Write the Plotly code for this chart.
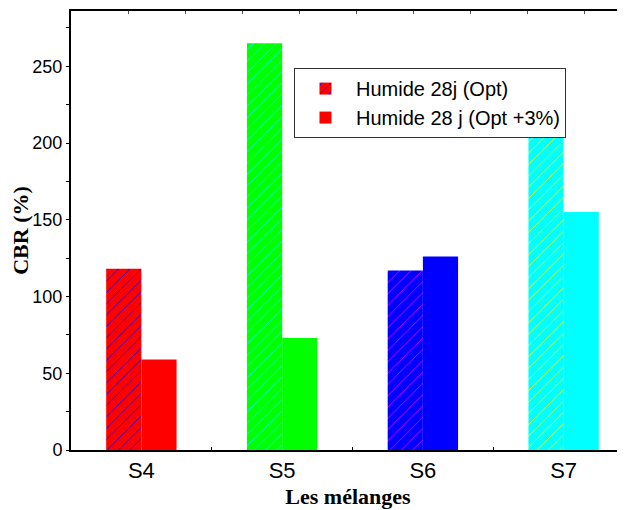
import plotly.graph_objects as go

categories = ["S4", "S5", "S6", "S7"]
cbr_opt = [118, 265, 117, 210]
cbr_opt3 = [59, 73, 126, 155]
series_names = ["Humide 28j (Opt)", "Humide 28 j (Opt +3%)"]
bar_colors = ["#ff0000", "#00ff00", "#0000ff", "#00ffff"]
hatch_colors = ["#0000ff", "#00ffff", "#ff00ff", "#ffff00"]
y_ticks = [0, 50, 100, 150, 200, 250]

fig = go.Figure()
for i, cat in enumerate(categories):
    fig.add_trace(go.Bar(
        x=[cat], y=[cbr_opt[i]], name=series_names[0],
        offsetgroup="opt", legendgroup="opt", showlegend=(i == 0),
        marker=dict(color=bar_colors[i], line=dict(width=0),
                    pattern=dict(shape="/", fgcolor=hatch_colors[i], bgcolor=bar_colors[i],
                                 size=8, solidity=0.1, fillmode="replace", fgopacity=1)),
    ))
for i, cat in enumerate(categories):
    fig.add_trace(go.Bar(
        x=[cat], y=[cbr_opt3[i]], name=series_names[1],
        offsetgroup="opt3", legendgroup="opt3", showlegend=(i == 0),
        marker=dict(color=bar_colors[i], line=dict(width=0)),
    ))

fig.update_layout(
    width=617, height=502,
    margin=dict(l=63, r=0, t=3, b=60, autoexpand=False),
    plot_bgcolor="white", paper_bgcolor="white",
    barmode="group", bargap=0.5, bargroupgap=0,
    font=dict(family="Liberation Sans, Arial", color="black"),
    showlegend=True,
    legend=dict(x=0.4025, y=0.87, xanchor="left", yanchor="top",
                bordercolor="#333333", borderwidth=1, bgcolor="white",
                font=dict(size=20, family="Liberation Sans, Arial"),
                tracegroupgap=0, itemwidth=51),
    xaxis=dict(range=[-0.5, 3.436], showline=True, linecolor="black", linewidth=2,
               ticks="inside", tickson="boundaries", ticklen=3, tickcolor="black",
               tickfont=dict(size=22), showgrid=False, zeroline=False, automargin=False,
               title=dict(text="<b>Les mélanges</b>",
                          font=dict(family="Liberation Serif, Times New Roman", size=22),
                          standoff=6)),
    xaxis2=dict(overlaying="x", side="top", range=[-0.5, 3.436], showline=True,
                linecolor="black", linewidth=2, ticks="inside", ticklen=3,
                tickcolor="#555555", tick0=-0.5, dtick=0.405,
                showticklabels=False, showgrid=False, zeroline=False, automargin=False),
    yaxis=dict(range=[0, 286], showline=True, linecolor="black", linewidth=2,
               tickvals=y_ticks, ticks="outside", ticklen=3, tickcolor="black",
               minor=dict(dtick=25, ticks="outside", ticklen=3, tickcolor="black"),
               tickfont=dict(size=18), showgrid=False, zeroline=False, automargin=False,
               title=dict(text="<b>CBR (%)</b>",
                          font=dict(family="Liberation Serif, Times New Roman", size=22),
                          standoff=5)),
)
fig.add_trace(go.Scatter(x=[0], y=[0], xaxis="x2", mode="markers",
                         marker=dict(opacity=0), showlegend=False, hoverinfo="skip"))

fig.write_html("out.html")
